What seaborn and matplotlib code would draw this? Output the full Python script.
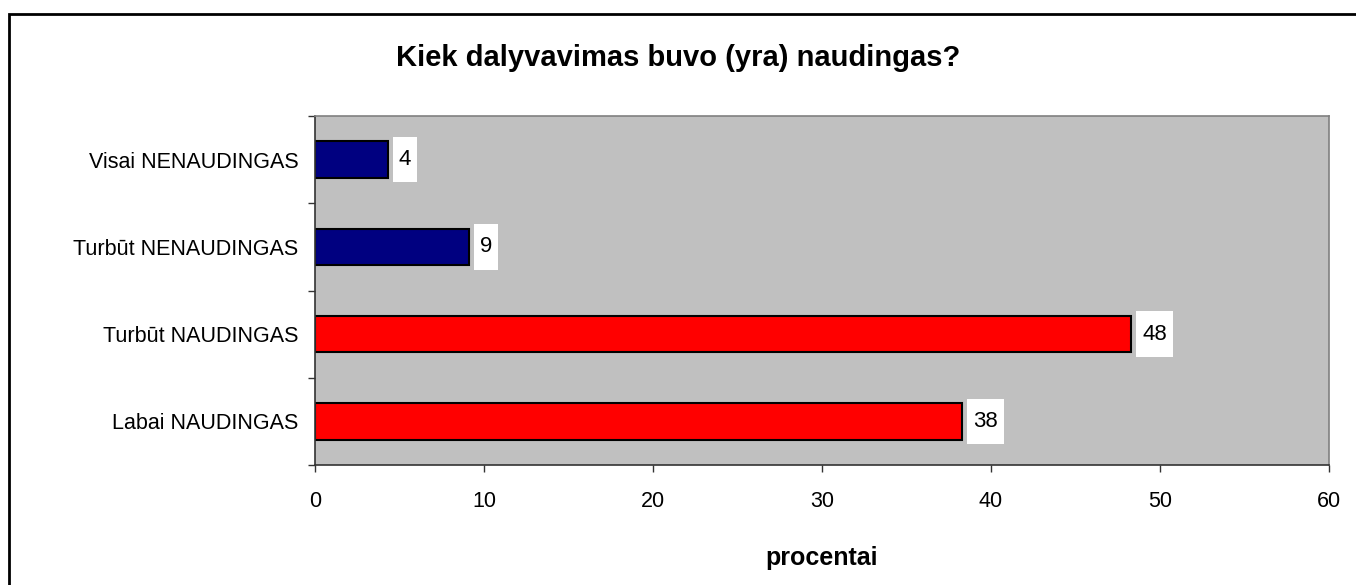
import matplotlib
matplotlib.use("Agg")
import matplotlib.pyplot as plt
from matplotlib.patches import Rectangle
from matplotlib.path import Path
import seaborn as sns
import pandas as pd

categories = ["Visai NENAUDINGAS", "Turbūt NENAUDINGAS", "Turbūt NAUDINGAS", "Labai NAUDINGAS"]
values = [4.3, 9.1, 48.3, 38.3]
bar_colors = ["#000080", "#000080", "#FF0000", "#FF0000"]
x_ticks = [0, 10, 20, 30, 40, 50, 60]
title = "Kiek dalyvavimas buvo (yra) naudingas?"
xlabel = "procentai"

sns.set_style("white")
plt.rcParams["font.family"] = ["Liberation Sans", "DejaVu Sans"]
plt.rcParams["text.color"] = "black"
plt.rcParams["axes.labelcolor"] = "black"
plt.rcParams["xtick.color"] = "black"
plt.rcParams["ytick.color"] = "black"

df = pd.DataFrame({"cat": categories, "val": values})

fig = plt.figure(figsize=(13.56, 5.85), dpi=100)
ax = fig.add_axes([315 / 1356, 1 - 465 / 585, (1329 - 315) / 1356, (465 - 116) / 585])
ax.set_facecolor("#C0C0C0")

sns.barplot(data=df, x="val", y="cat", hue="cat", palette=bar_colors, orient="h",
            width=0.42, edgecolor="black", linewidth=1.5, legend=False, ax=ax, saturation=1)

ax.set_xlim(0, 60)
ax.set_ylim(len(categories) - 0.5, -0.5)
ax.set_xticks(x_ticks)
ax.set_xticklabels([str(t) for t in x_ticks], fontsize=15.5, color="black")
ax.set_yticks(range(len(categories)))
ax.set_yticklabels(categories, fontsize=15.5, color="black")
ax.set_yticks([i - 0.5 for i in range(len(categories) + 1)], minor=True)
ax.tick_params(axis="y", which="major", length=0, pad=12)
ax.tick_params(axis="y", which="minor", length=5, width=1, color="#333333", direction="out", left=True)
ax.tick_params(axis="x", which="major", length=5, width=1, color="#333333", direction="out", bottom=True, pad=14)
ax.set_ylabel("")
ax.set_xlabel(xlabel, fontsize=18, fontweight="bold", labelpad=24, color="black")

for side in ["left", "bottom"]:
    ax.spines[side].set_color("#333333")
    ax.spines[side].set_linewidth(1.2)
for side in ["top", "right"]:
    ax.spines[side].set_color("#808080")
    ax.spines[side].set_linewidth(1.2)


def label_box(x0, y0, width, height, mutation_size):
    px = 0.28 * mutation_size
    py = 0.55 * mutation_size
    x0, y0 = x0 - px, y0 - py
    x1, y1 = x0 + width + 2 * px, y0 + height + 2 * py
    return Path([(x0, y0), (x1, y0), (x1, y1), (x0, y1), (x0, y0)], closed=True)


for i, v in enumerate(values):
    ax.annotate(f"{v:.0f}", xy=(v, i), xytext=(8, 0), textcoords="offset points",
                ha="left", va="center", fontsize=16, color="black",
                bbox=dict(boxstyle=label_box, facecolor="white", edgecolor="none"))

fig.text(0.5, 1 - 66 / 585, title, ha="center", va="baseline", fontsize=21, fontweight="bold", color="black")

fig.patches.append(Rectangle((8.5 / 1356, -0.2), 1.2, 1.2 - 13.5 / 585, transform=fig.transFigure,
                             fill=False, edgecolor="black", linewidth=2, zorder=-1))

fig.savefig("out.png", dpi=100, facecolor="white")
